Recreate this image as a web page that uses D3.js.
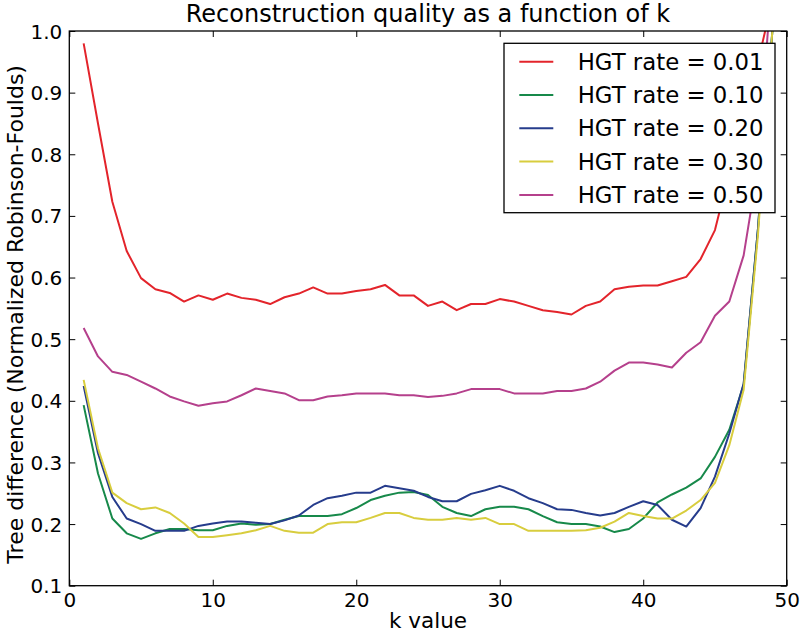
<!DOCTYPE html>
<html>
<head>
<meta charset="utf-8">
<script src="https://cdn.jsdelivr.net/npm/d3@7"></script>
<style>
  html, body { margin: 0; padding: 0; background: #ffffff; }
  svg { display: block; }
  text { font-family: "DejaVu Sans", sans-serif; fill: #000; }
</style>
</head>
<body>
<svg id="chart" width="800" height="636"></svg>
<script>
// ---------------- data ----------------
const kValues = d3.range(1, 50);
const seriesNames = ["HGT rate = 0.01", "HGT rate = 0.10", "HGT rate = 0.20", "HGT rate = 0.30", "HGT rate = 0.50"];
const seriesColors = ["#e3242b", "#17894a", "#263c8c", "#d8cd3e", "#b5408c"];

const rate001 = [0.98,0.85,0.723,0.643,0.599,0.581,0.575,0.561,0.571,0.564,0.574,0.567,0.564,0.557,0.568,0.574,0.584,0.574,0.574,0.578,0.581,0.588,0.571,0.571,0.554,0.561,0.547,0.557,0.557,0.565,0.561,0.554,0.547,0.544,0.540,0.554,0.561,0.581,0.585,0.587,0.587,0.594,0.601,0.630,0.677,0.77,0.86,0.95,1.05];
const rate010 = [0.393,0.282,0.209,0.185,0.176,0.185,0.192,0.192,0.190,0.190,0.197,0.201,0.199,0.200,0.207,0.213,0.213,0.213,0.216,0.226,0.239,0.246,0.251,0.252,0.247,0.228,0.218,0.213,0.224,0.228,0.228,0.224,0.213,0.203,0.200,0.200,0.196,0.187,0.192,0.209,0.235,0.248,0.259,0.274,0.309,0.353,0.426,0.68,1.0];
const rate020 = [0.424,0.315,0.244,0.209,0.200,0.189,0.189,0.189,0.197,0.201,0.204,0.204,0.202,0.200,0.206,0.214,0.231,0.242,0.246,0.251,0.251,0.262,0.258,0.254,0.244,0.237,0.237,0.249,0.255,0.262,0.254,0.242,0.234,0.224,0.223,0.218,0.214,0.218,0.228,0.237,0.231,0.207,0.196,0.226,0.277,0.347,0.428,0.68,1.0];
const rate030 = [0.434,0.323,0.251,0.234,0.224,0.227,0.218,0.201,0.179,0.179,0.182,0.185,0.190,0.197,0.189,0.186,0.186,0.200,0.203,0.203,0.210,0.218,0.218,0.210,0.207,0.207,0.210,0.207,0.210,0.200,0.200,0.189,0.189,0.189,0.189,0.190,0.194,0.204,0.218,0.213,0.209,0.209,0.222,0.239,0.267,0.328,0.418,0.67,1.0];
const rate050 = [0.518,0.472,0.447,0.442,0.431,0.420,0.407,0.399,0.392,0.396,0.399,0.409,0.420,0.416,0.412,0.401,0.401,0.407,0.409,0.412,0.412,0.412,0.409,0.409,0.406,0.408,0.412,0.419,0.419,0.419,0.412,0.412,0.412,0.416,0.416,0.420,0.431,0.449,0.462,0.462,0.459,0.454,0.478,0.495,0.538,0.561,0.636,0.78,1.1];
const seriesValues = [rate001, rate010, rate020, rate030, rate050];

const xTicks = [0, 10, 20, 30, 40, 50];
const yTicks = [0.1, 0.2, 0.3, 0.4, 0.5, 0.6, 0.7, 0.8, 0.9, 1.0];

const titleText = "Reconstruction quality as a function of k";
const xLabelText = "k value";
const yLabelText = "Tree difference (Normalized Robinson-Foulds)";

// ---------------- layout ----------------
const W = 800, H = 636;
const margin = { left: 69.3, right: 13.3, top: 31, bottom: 50.3 };
const pw = W - margin.left - margin.right;
const ph = H - margin.top - margin.bottom;
const tickFont = 20;

const svg = d3.select("#chart");
svg.append("rect").attr("width", W).attr("height", H).attr("fill", "#ffffff");

const x = d3.scaleLinear().domain([0, 50]).range([0, pw]);
const y = d3.scaleLinear().domain([0.1, 1.0]).range([ph, 0]);

const g = svg.append("g").attr("transform", `translate(${margin.left},${margin.top})`);

g.append("clipPath").attr("id", "plotclip")
  .append("rect").attr("x", 0).attr("y", 0).attr("width", pw).attr("height", ph);

// lines
const line = d3.line().x((d, i) => x(kValues[i])).y(d => y(d));
const linesG = g.append("g").attr("clip-path", "url(#plotclip)");
seriesValues.forEach((vals, si) => {
  linesG.append("path")
    .datum(vals)
    .attr("d", line)
    .attr("fill", "none")
    .attr("stroke", seriesColors[si])
    .attr("stroke-width", 2)
    .attr("stroke-linejoin", "round");
});

// axes (inward ticks, mirrored)
const fmtY = d3.format(".1f");
const bottomAxis = g.append("g").attr("transform", `translate(0,${ph})`)
  .call(d3.axisBottom(x).tickValues(xTicks).tickFormat(d3.format("d")).tickSizeInner(-6).tickSizeOuter(0).tickPadding(0));
const leftAxis = g.append("g")
  .call(d3.axisLeft(y).tickValues(yTicks).tickFormat(fmtY).tickSizeInner(-6).tickSizeOuter(0).tickPadding(0));
const topAxis = g.append("g")
  .call(d3.axisTop(x).tickValues(xTicks).tickFormat("").tickSizeInner(-6).tickSizeOuter(0));
const rightAxis = g.append("g").attr("transform", `translate(${pw},0)`)
  .call(d3.axisRight(y).tickValues(yTicks).tickFormat("").tickSizeInner(-6).tickSizeOuter(0));

[bottomAxis, leftAxis, topAxis, rightAxis].forEach(a => {
  a.select(".domain").remove();
  a.selectAll(".tick line").attr("stroke", "#000").attr("stroke-width", 1);
});

bottomAxis.selectAll(".tick text")
  .attr("y", 21).attr("dy", 0)
  .style("font-size", tickFont + "px").style("font-family", "DejaVu Sans");
leftAxis.selectAll(".tick text")
  .attr("x", -7).attr("dy", 7)
  .style("font-size", tickFont + "px").style("font-family", "DejaVu Sans");

// frame
g.append("rect").attr("x", 0).attr("y", 0).attr("width", pw).attr("height", ph)
  .attr("fill", "none").attr("stroke", "#000").attr("stroke-width", 1.3);

// title and axis labels
svg.append("text").attr("x", margin.left + pw / 2).attr("y", 22)
  .attr("text-anchor", "middle").style("font-size", "24px").text(titleText);
svg.append("text").attr("x", margin.left + pw / 2).attr("y", 628)
  .attr("text-anchor", "middle").style("font-size", "21.5px").text(xLabelText);
svg.append("text").attr("transform", `translate(23,${margin.top + ph / 2 + 6}) rotate(-90)`)
  .attr("text-anchor", "middle").style("font-size", "22px").text(yLabelText);

// legend
const legend = svg.append("g").attr("transform", "translate(504,43.3)");
legend.append("rect").attr("x", 0).attr("y", 0).attr("width", 271).attr("height", 169.4)
  .attr("fill", "#ffffff").attr("stroke", "#000").attr("stroke-width", 1.3);
seriesNames.forEach((name, i) => {
  const ry = 18.4 + i * 33.3;
  legend.append("line").attr("x1", 15.3).attr("x2", 49.3).attr("y1", ry).attr("y2", ry)
    .attr("stroke", seriesColors[i]).attr("stroke-width", 2);
  legend.append("text").attr("x", 73.7).attr("y", ry + 8)
    .style("font-size", "22.8px").text(name);
});
</script>
</body>
</html>
